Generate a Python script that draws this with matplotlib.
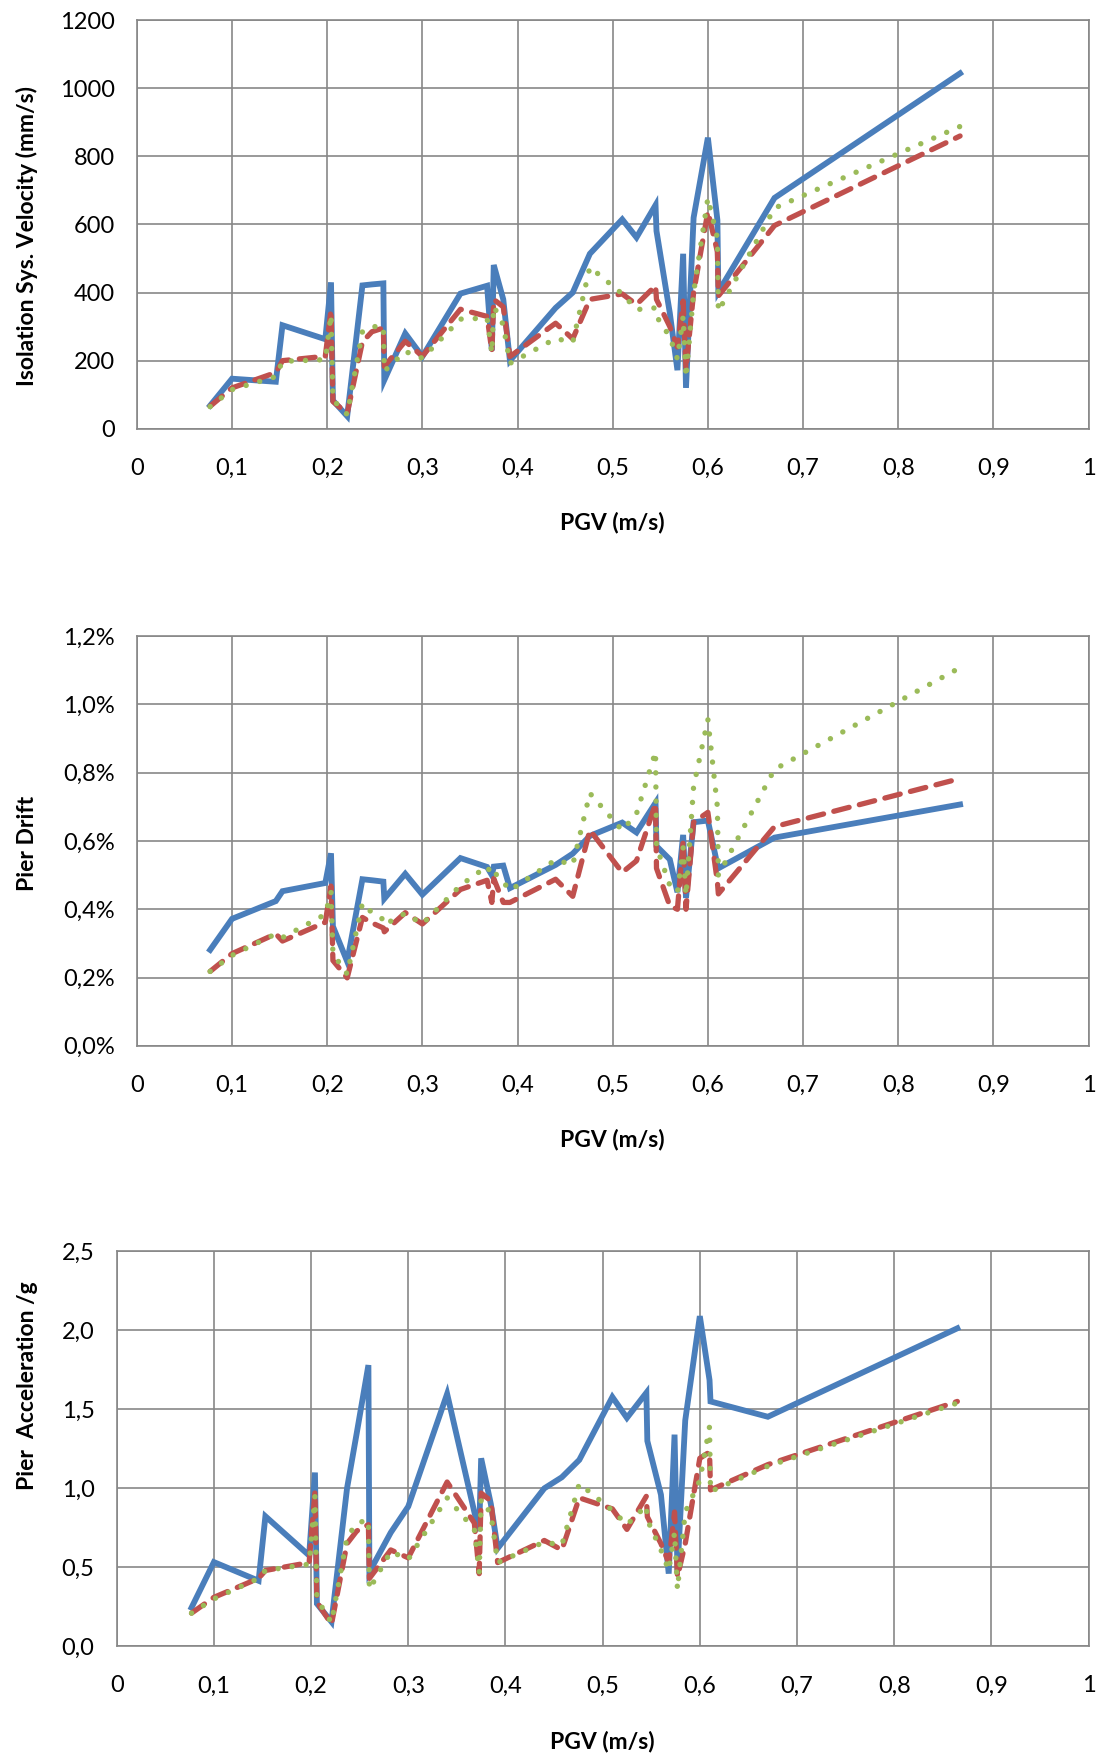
import matplotlib
matplotlib.use("Agg")
import matplotlib.pyplot as plt
from matplotlib.ticker import FuncFormatter, MultipleLocator

plt.rcParams['font.family'] = ['Lato', 'DejaVu Sans']

# Peak ground velocity of each record (m/s)
pgv = [0.077, 0.100, 0.146, 0.153, 0.198, 0.204, 0.206, 0.221, 0.237, 0.247,
       0.259, 0.260, 0.282, 0.300, 0.340, 0.368, 0.373, 0.375, 0.385, 0.392,
       0.440, 0.458, 0.476, 0.510, 0.525, 0.545, 0.546, 0.560, 0.568, 0.574,
       0.577, 0.585, 0.600, 0.610, 0.611, 0.670, 0.865]

# Isolation system velocity (mm/s)
vel_a = [68, 147, 138, 304, 263, 430, 83, 37, 421, 424, 427, 143, 280, 212, 397,
         420, 230, 481, 380, 200, 355, 400, 514, 615, 562, 657, 581, 340, 172, 514,
         120, 620, 855, 613, 402, 678, 1044]
vel_b = [66, 120, 165, 200, 213, 350, 80, 45, 255, 285, 296, 183, 257, 213, 351,
         330, 228, 380, 358, 212, 310, 264, 380, 396, 365, 420, 380, 300, 240, 375,
         174, 400, 638, 520, 390, 597, 860]
vel_c = [65, 115, 153, 198, 203, 335, 85, 42, 285, 300, 300, 169, 227, 207, 322,
         325, 222, 360, 305, 192, 265, 254, 475, 396, 350, 355, 330, 270, 205, 330,
         150, 400, 678, 560, 345, 648, 888]

# Pier drift (%)
drift_a = [0.281, 0.372, 0.424, 0.453, 0.477, 0.564, 0.350, 0.247, 0.488, 0.485,
           0.481, 0.431, 0.504, 0.443, 0.550, 0.524, 0.500, 0.525, 0.528, 0.462,
           0.530, 0.563, 0.615, 0.654, 0.625, 0.712, 0.585, 0.546, 0.450, 0.618,
           0.433, 0.655, 0.660, 0.530, 0.520, 0.610, 0.707]
drift_b = [0.218, 0.270, 0.328, 0.307, 0.362, 0.468, 0.250, 0.199, 0.376, 0.360,
           0.345, 0.334, 0.390, 0.357, 0.458, 0.485, 0.420, 0.490, 0.420, 0.420,
           0.488, 0.438, 0.632, 0.508, 0.542, 0.710, 0.520, 0.410, 0.400, 0.600,
           0.400, 0.655, 0.684, 0.480, 0.445, 0.642, 0.783]
drift_c = [0.218, 0.265, 0.328, 0.317, 0.385, 0.450, 0.270, 0.210, 0.418, 0.390,
           0.370, 0.355, 0.388, 0.357, 0.470, 0.526, 0.500, 0.510, 0.480, 0.455,
           0.545, 0.530, 0.740, 0.631, 0.680, 0.862, 0.584, 0.470, 0.450, 0.580,
           0.440, 0.760, 0.956, 0.700, 0.500, 0.810, 1.108]

# Pier acceleration (g)
acc_a = [0.245, 0.533, 0.415, 0.823, 0.575, 1.100, 0.270, 0.155, 1.000, 1.350,
         1.780, 0.470, 0.720, 0.885, 1.598, 0.850, 0.730, 1.190, 0.900, 0.620,
         1.000, 1.070, 1.180, 1.578, 1.446, 1.605, 1.300, 0.960, 0.460, 1.340,
         0.480, 1.430, 2.090, 1.685, 1.550, 1.453, 2.013]
acc_b = [0.210, 0.310, 0.430, 0.480, 0.530, 0.980, 0.280, 0.140, 0.650, 0.730,
         0.770, 0.430, 0.610, 0.560, 1.040, 0.780, 0.460, 0.970, 0.920, 0.530,
         0.670, 0.610, 0.940, 0.870, 0.740, 0.950, 0.820, 0.650, 0.530, 0.850,
         0.440, 0.650, 1.190, 1.230, 0.990, 1.150, 1.550]
acc_c = [0.210, 0.300, 0.430, 0.480, 0.520, 0.950, 0.300, 0.150, 0.690, 0.780,
         0.800, 0.360, 0.600, 0.550, 0.940, 0.740, 0.470, 0.930, 0.840, 0.530,
         0.660, 0.640, 1.030, 0.860, 0.770, 0.890, 0.800, 0.610, 0.480, 0.720,
         0.360, 0.850, 1.050, 1.390, 0.980, 1.140, 1.540]

BLUE = '#4A7EBB'
RED = '#C0504D'
GREEN = '#9BBB59'
GRID = '#878787'
TICK_FS = 17
LABEL_FS = 16.5


def comma(fmt, suffix=''):
    def f(v, pos):
        s = fmt.format(v).replace('.', ',')
        return s + suffix
    return FuncFormatter(f)


def x_fmt(v, pos):
    if abs(v) < 1e-9:
        return '0'
    if abs(v - 1) < 1e-9:
        return '1'
    return '{:.1f}'.format(v).replace('.', ',')


def panel(rect, ys, ylim, ystep, yfmt, ylabel, ylab_xy, xlab_y):
    ax = fig.add_axes(rect)
    ax.plot(pgv, ys[0], color=BLUE, lw=4.2, solid_joinstyle='miter', zorder=3)
    ax.plot(pgv, ys[1], color=RED, lw=3.8, linestyle=(0, (3.0, 2.0)),
            dash_capstyle='round', zorder=4)
    ax.plot(pgv, ys[2], color=GREEN, lw=3.9, linestyle=(0, (0.01, 2.6)),
            dash_capstyle='round', zorder=5)
    ax.set_xlim(0, 1)
    ax.set_ylim(*ylim)
    ax.xaxis.set_major_locator(MultipleLocator(0.1))
    ax.yaxis.set_major_locator(MultipleLocator(ystep))
    ax.xaxis.set_major_formatter(FuncFormatter(x_fmt))
    ax.yaxis.set_major_formatter(yfmt)
    ax.grid(True, color=GRID, lw=1.2)
    ax.set_axisbelow(True)
    for sp in ax.spines.values():
        sp.set_color(GRID)
        sp.set_linewidth(1.2)
    ax.tick_params(axis='both', length=0, labelsize=TICK_FS, colors='black')
    ax.tick_params(axis='x', pad=21)
    ax.tick_params(axis='y', pad=16)
    ax.set_xlabel('PGV (m/s)', fontsize=LABEL_FS, fontweight='bold')
    ax.xaxis.set_label_coords(0.5, xlab_y)
    ax.xaxis.label.set_va('center')
    ax.set_ylabel(ylabel, fontsize=LABEL_FS, fontweight='bold')
    ax.yaxis.set_label_coords(*ylab_xy)
    ax.yaxis.label.set_va('center')
    return ax


fig = plt.figure(figsize=(11.02, 17.60), dpi=100)
fig.patch.set_facecolor('white')

panel([0.1242, 0.7564, 0.8636, 0.2321], [vel_a, vel_b, vel_c], (0, 1200), 200,
      comma('{:.0f}'), 'Isolation Sys. Velocity (mm/s)', (-0.115, 0.4725), -0.230)

panel([0.1242, 0.4058, 0.8636, 0.2327], [drift_a, drift_b, drift_c], (0, 1.2), 0.2,
      comma('{:.1f}', '%'), 'Pier Drift', (-0.115, 0.493), -0.2295)

panel([0.1059, 0.0646, 0.8819, 0.2244], [acc_a, acc_b, acc_c], (0, 2.5), 0.5,
      comma('{:.1f}'), 'Pier  Acceleration /g', (-0.092, 0.659), -0.2405)

fig.savefig('out.png', dpi=100, facecolor='white')
